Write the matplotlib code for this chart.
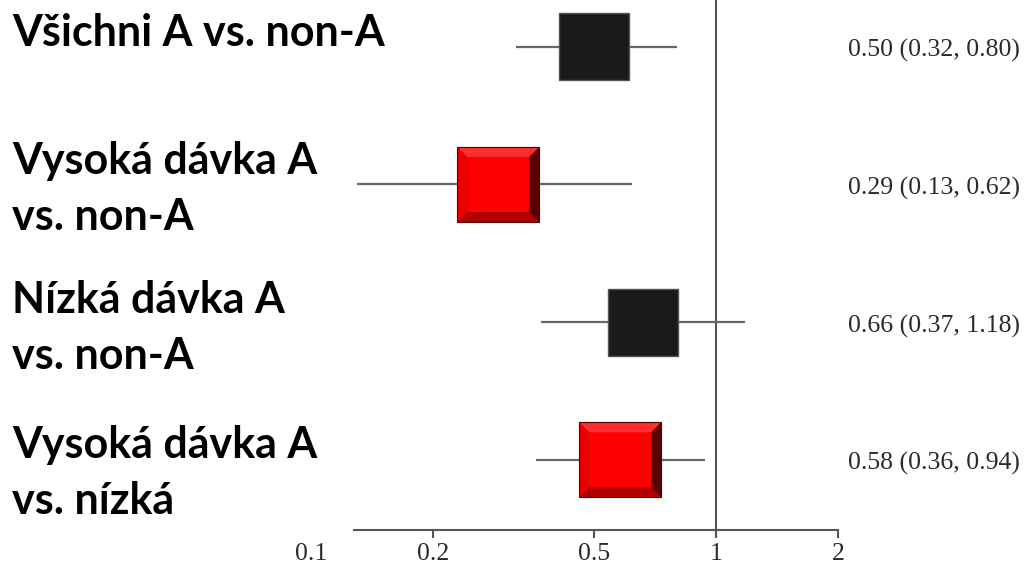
import matplotlib
matplotlib.use("Agg")
import matplotlib.pyplot as plt
import matplotlib.transforms as mtransforms
from matplotlib.patches import Polygon

labels = ["Všichni A vs. non-A", "Vysoká dávka A\nvs. non-A",
          "Nízká dávka A\nvs. non-A", "Vysoká dávka A\nvs. nízká"]
estimates = [0.50, 0.29, 0.66, 0.58]
lower = [0.32, 0.13, 0.37, 0.36]
upper = [0.80, 0.62, 1.18, 0.94]
effect_text = ["0.50 (0.32, 0.80)", "0.29 (0.13, 0.62)",
               "0.66 (0.37, 1.18)", "0.58 (0.36, 0.94)"]
box_colors = ["black", "red", "black", "red"]
xticks = [0.1, 0.2, 0.5, 1, 2]
xtick_labels = ["0.1", "0.2", "0.5", "1", "2"]

W, H, DPI = 1028, 565, 100
fig = plt.figure(figsize=(W / DPI, H / DPI), dpi=DPI)
ax = fig.add_axes([311 / W, (H - 530) / H, (838 - 311) / W, 530 / H])
ax.set_xscale("log")
ax.set_xlim(0.1, 2)
ax.set_ylim(3.51, -0.34)

for s in ["top", "right", "left"]:
    ax.spines[s].set_visible(False)
ax.spines["bottom"].set_color("#555555")
ax.spines["bottom"].set_linewidth(1.5)
ax.spines["bottom"].set_bounds(0.128, 2)
ax.set_yticks([])
ax.set_xticks(xticks)
ax.set_xticklabels(xtick_labels, fontfamily="Liberation Serif", fontsize=18.5, color="#2a2a2a")
ax.xaxis.set_minor_locator(matplotlib.ticker.NullLocator())
ax.tick_params(axis="x", direction="out", length=6, width=1.5, color="#555555", pad=3)
ax.xaxis.get_major_ticks()[0].tick1line.set_visible(False)

ax.axvline(1, ymin=-0.012, ymax=1, color="#555555", lw=1.5, clip_on=False, zorder=1)


def pixel_patch(x, y, verts, **kw):
    tr = mtransforms.Affine2D() + mtransforms.ScaledTranslation(x, y, ax.transData)
    p = Polygon(verts, closed=True, transform=tr, **kw)
    ax.add_patch(p)
    return p


text_tr = mtransforms.offset_copy(
    mtransforms.blended_transform_factory(fig.transFigure, ax.transData),
    fig=fig, x=0, y=-4, units="dots")

for i, (est, lo, hi, col) in enumerate(zip(estimates, lower, upper, box_colors)):
    ax.plot([lo, hi], [i, i], color="#666666", lw=1.6, zorder=2, solid_capstyle="butt")
    if col == "black":
        hw, hh = 35, 33.5
        pixel_patch(est, i, [(-hw, -hh), (hw, -hh), (hw, hh), (-hw, hh)],
                    facecolor="#1a1a1a", edgecolor="#555555", lw=1.0, zorder=3)
    else:
        hw, hh, b = 41, 37.5, 10
        outer = [(-hw, -hh), (hw, -hh), (hw, hh), (-hw, hh)]
        pixel_patch(est, i, outer, facecolor="#ff0000", edgecolor="none", zorder=3)
        pixel_patch(est, i, [(-hw, hh), (hw, hh), (hw - b, hh - b), (-hw + b, hh - b)],
                    facecolor="#ff2d2d", edgecolor="none", zorder=4)
        pixel_patch(est, i, [(-hw, -hh), (hw, -hh), (hw - b, -hh + b), (-hw + b, -hh + b)],
                    facecolor="#b00000", edgecolor="none", zorder=4)
        pixel_patch(est, i, [(hw, -hh), (hw, hh), (hw - b, hh - b), (hw - b, -hh + b)],
                    facecolor="#5a0000", edgecolor="none", zorder=4)
        pixel_patch(est, i, [(-hw, -hh), (-hw, hh), (-hw + b, hh - b), (-hw + b, -hh + b)],
                    facecolor="#ea0000", edgecolor="none", zorder=4)
        pixel_patch(est, i, outer, facecolor="none", edgecolor="#500000", lw=0.8, zorder=5)

    ax.text(848 / W, i, effect_text[i], transform=text_tr,
            ha="left", va="center", fontfamily="Liberation Serif", fontsize=18.5, color="#2a2a2a")

label_y = [33, 189, 328, 473]
for lab, yp in zip(labels, label_y):
    fig.text(12 / W, 1 - yp / H, lab, ha="left", va="center", fontfamily="Lato",
             fontweight="bold", fontsize=31, color="black", linespacing=1.48)

fig.savefig("out.png", dpi=DPI)
